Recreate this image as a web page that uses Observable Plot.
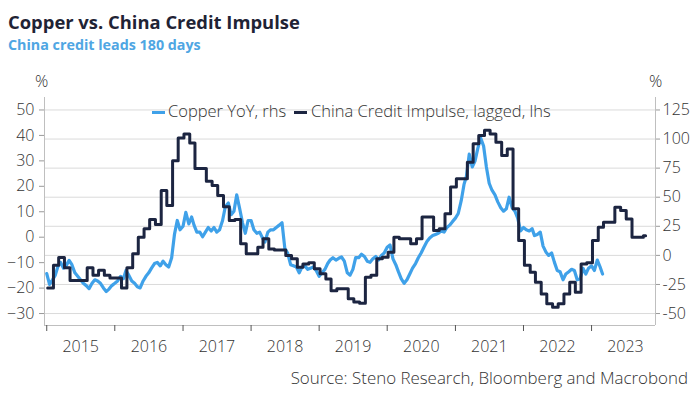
<!DOCTYPE html>
<html><head><meta charset="utf-8">
<script src="https://cdn.jsdelivr.net/npm/d3@7"></script>
<script src="https://cdn.jsdelivr.net/npm/@observablehq/plot@0.6"></script>
<style>
body{margin:0;background:#fff;font-family:"Open Sans",sans-serif;}
#wrap{position:relative;width:700px;height:393px;overflow:hidden;background:#fff}
.t{position:absolute;white-space:nowrap;line-height:1}
.lt{font-weight:300;color:#333}
#chart{position:absolute;left:0;top:0}
.sw{position:absolute;height:3px}
svg text{font-weight:300}
</style></head><body>
<div id="wrap">
  <div id="chart"></div>
  <div class="t" id="title" style="left:8px;top:13px;font-size:18.4px;font-weight:700;color:#1f2335">Copper vs. China Credit Impulse</div>
  <div class="t" id="sub" style="left:8px;top:38px;font-size:14.3px;font-weight:700;color:#4fa6e3">China credit leads 180 days</div>
  <div class="t lt" style="left:35px;top:73px;font-size:16.5px">%</div>
  <div class="t lt" style="left:649px;top:73px;font-size:16.5px">%</div>
  <div class="sw" style="left:152px;top:111px;width:13px;background:#3fa1e9"></div>
  <div class="t lt" style="left:168px;top:103px;font-size:16.5px">Copper YoY, rhs</div>
  <div class="sw" style="left:294px;top:111px;width:13px;background:#1c2541"></div>
  <div class="t lt" style="left:311px;top:103px;font-size:16.5px">China Credit Impulse, lagged, lhs</div>
  <div class="t lt" style="right:12px;top:370px;font-size:16.9px">Source: Steno Research, Bloomberg and Macrobond</div>
</div>
<script>
// China Credit Impulse (lagged, lhs, %), monthly from 2015-01
const creditStart = "2015-01-06";
const creditImpulse = [
  -20,-11,-8,-12,-17,-17,-17,-12,-15,-13,-15,-16,
  -16,-20,-12,-6.5,0,3.3,7,5,18.4,12.5,30,39,
  40.6,37,27,27,22,20.3,16.4,12,6.6,7,-2.6,-6.5,
  -6.5,-3.9,-0.6,-4.6,-5,-5,-7.2,-8.5,-11.8,-10.5,-10,-12.4,
  -14.4,-16.4,-21,-20.3,-20.3,-24.2,-25.5,-26,-15.7,-15,-8.5,-7.9,
  -5.9,0,-0.6,-0.6,-2.6,-0.6,7.9,7.9,2.6,3.3,9.2,19.7,
  23,23,29.5,36.7,40,42,40.6,37.3,32.1,34.7,11.2,-1.3,
  -11,-13.8,-17.7,-22.3,-26.2,-27.5,-26.2,-22.3,-17.7,-21.6,-10.5,-10,
  -1.3,3.9,5.9,5.9,11.8,10.5,7.2,0,0,0.6
];
// Copper YoY (rhs, %), sampled on the 1st and 16th of each month from 2015-01
const copperYoY = [
  -15.7,-25, -21,-17, -10,-6, -11,-8.6, -4.3,-8, -15,-18, -21,-24, -26,-28.6, -24,-21, -22,-24, -28,-31, -29,-26,
  -24,-22, -18,-20, -13,-17, -22,-24, -27,-28, -22,-18, -15,-11, -7,-6, -9,-5, -8,-10, -2,18, 30,22,
  25,37, 27,33, 26,20, 20,16, 20,24, 21,24, 20,22, 30,42, 45,35, 38,52, 40,28, 19,30,
  30,22, 19,20, 15.7,11.5, 20,22, 22,24, 26,28, 6,2, -8,-9, -10,-15, -10,-9, -12,-11, -10,-13,
  -18,-15, -12,-7, -4,-2, -4,-2.5, -1.4,-5, -15,-17, -12,-2, -2,1, -1,-5, -6,-3, -1,-4, 0,2,
  7,9, -3,-8, -14,-20, -24,-21, -16,-11, -7,-2, 2,7, 12,15, 17,18, 19,21, 20,24, 26,29,
  32,36, 47,61, 68,87, 76,81, 92,101, 94,76, 62,56, 52,46, 41,38, 40,50, 41,38, 32,21,
  24,22, 21,23, 17,18, 20,8, 3,0, 2,-6, -13,-14, -21,-16, -14,-12, -13,-21, -20,-11, -16,-11,
  -9,-13, -4,-10, -16
];
const leftTicks = [-30,-20,-10,0,10,20,30,40,50];
const rightTicks = [-50,-25,0,25,50,75,100,125];
const yearTicks = [2015,2016,2017,2018,2019,2020,2021,2022,2023];
const yearLabels = [2015,2016,2017,2018,2019,2020,2021,2022,2023];

// right axis (rhs) mapped onto left axis: -50..125 <-> -30..50
const toL = r => -30 + (r + 50) * 80 / 175;
const fromL = l => (l + 30) * 175 / 80 - 50;

const c0 = new Date(creditStart);
const creditData = creditImpulse.map((v, i) => ({date: d3.utcMonth.offset(c0, i), v}));
creditData.push({date: d3.utcDay.offset(creditData[creditData.length-1].date, 12), v: creditImpulse[creditImpulse.length-1]});
const copperData = copperYoY.map((r, i) => {
  const m = Math.floor(i / 2);
  const d = new Date(Date.UTC(2015, m, i % 2 ? 16 : 1));
  return {date: d, v: toL(r)};
});

const xDomain = [new Date("2014-12-20"), new Date("2023-12-10")];
const yDomain = [-34.7, 54.9];
const axisGray = "#bfbfbf";
const textGray = "#333";

const chart = Plot.plot({
  width: 700, height: 393,
  marginTop: 97, marginBottom: 68, marginLeft: 44, marginRight: 45,
  style: {fontFamily: "Open Sans, sans-serif", fontSize: "16px", color: textGray, background: "white", overflow: "visible"},
  x: {type: "utc", domain: xDomain},
  y: {domain: yDomain},
  marks: [
    Plot.ruleY(rightTicks.map(toL), {stroke: "#dadada", strokeWidth: 1}),
    Plot.ruleX([xDomain[0]], {stroke: axisGray}),
    Plot.ruleX([xDomain[1]], {stroke: axisGray}),
    Plot.ruleY([yDomain[0]], {stroke: axisGray}),
    Plot.axisY({anchor: "left", ticks: leftTicks, tickSize: 5, tickPadding: 5, label: null, stroke: "#999", fill: textGray, fontSize: 16}),
    Plot.axisY({anchor: "right", ticks: rightTicks.map(toL), tickFormat: l => String(Math.round(fromL(l))), tickSize: 4, tickPadding: 3, label: null, stroke: "#999", fill: textGray, fontSize: 16}),
    Plot.axisX({ticks: yearTicks.map(y => new Date(Date.UTC(y, 0, 1))), tickFormat: () => "", tickSize: 6, stroke: "#555", label: null}),
    Plot.axisX({ticks: yearLabels.map(y => new Date(Date.UTC(y, 6, 2))), tickFormat: d3.utcFormat("%Y"), tickSize: 0, tickPadding: 15, label: null, fill: textGray, fontSize: 16}),
    Plot.line(copperData, {x: "date", y: "v", stroke: "#3fa1e9", strokeWidth: 3.2, strokeLinejoin: "round"}),
    Plot.line(creditData, {x: "date", y: "v", stroke: "#1c2541", strokeWidth: 3, curve: "step-after"})
  ]
});
document.getElementById("chart").appendChild(chart);
</script>
</body></html>
